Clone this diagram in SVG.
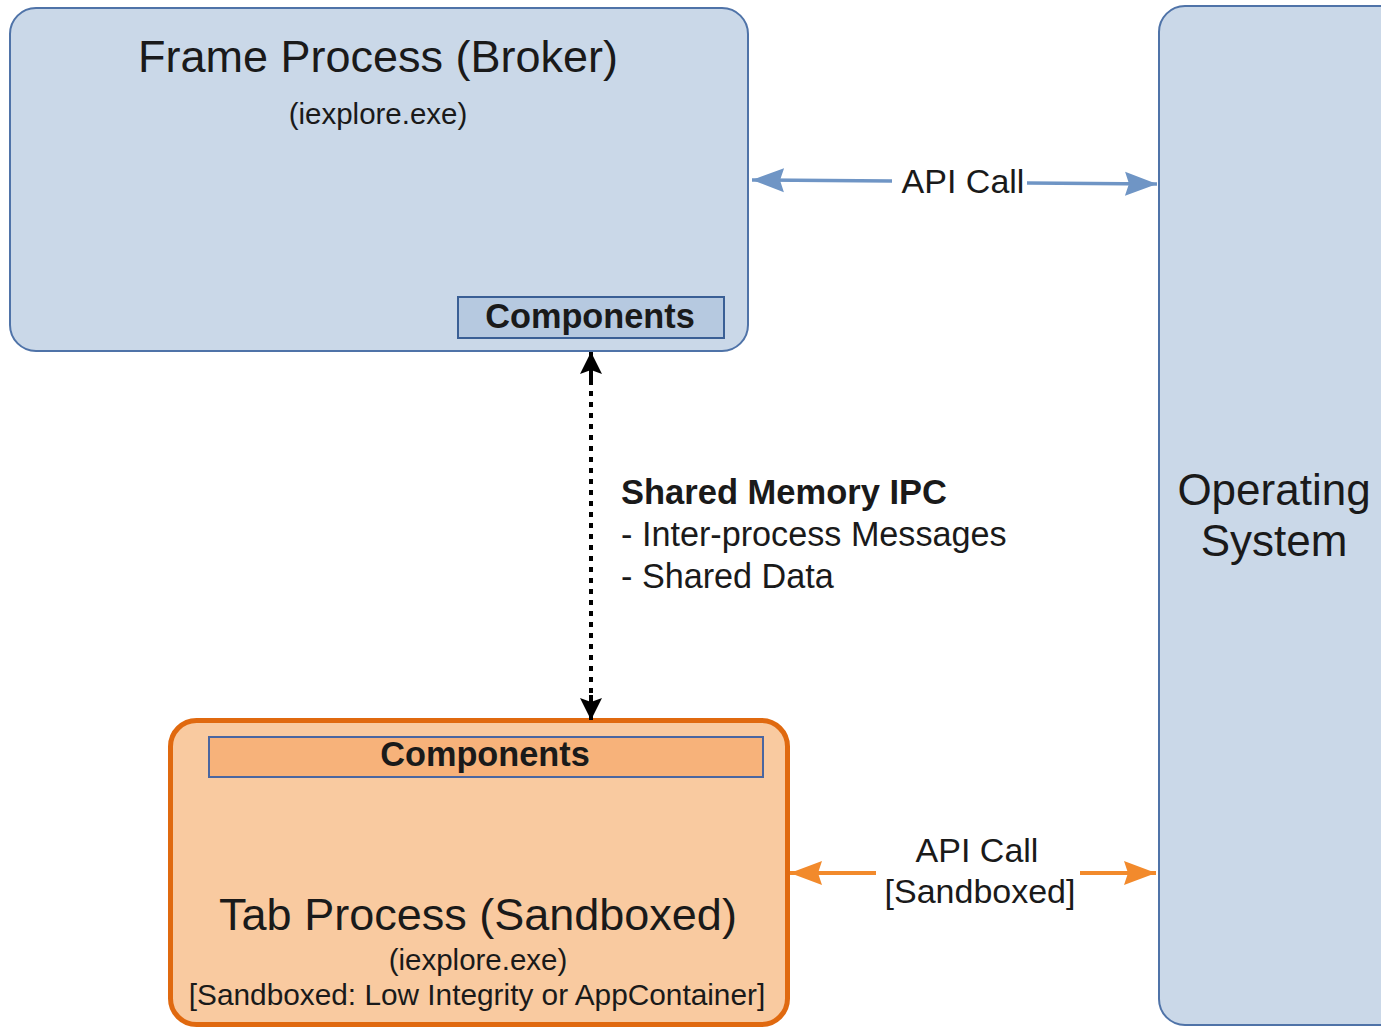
<svg xmlns="http://www.w3.org/2000/svg" width="1381" height="1027" viewBox="0 0 1381 1027">
<style>
.t{font-family:"Liberation Sans",Arial,sans-serif;fill:#1a1a1a}
.b{font-weight:bold}
.blue{fill:#cad8e8;stroke:#4f73a8;stroke-width:2}
.comp1{fill:#b6c9e0;stroke:#3a5f95;stroke-width:2}
.comp2{fill:#f7b27a;stroke:#4a66a0;stroke-width:2}
.ab{stroke:#6f95c5;stroke-width:3.5;fill:none}
.ao{stroke:#f28a2c;stroke-width:4;fill:none}
</style>
<defs>
<marker id="mb" markerUnits="userSpaceOnUse" markerWidth="34" markerHeight="28" refX="32" refY="14" orient="auto"><path d="M0,2 L32,14 L0,26 L4,14 Z" fill="#6f95c5"/></marker>
<marker id="mo" markerUnits="userSpaceOnUse" markerWidth="34" markerHeight="28" refX="32" refY="14" orient="auto"><path d="M0,2 L32,14 L0,26 L4,14 Z" fill="#f28a2c"/></marker>
<marker id="mk" markerUnits="userSpaceOnUse" markerWidth="24" markerHeight="24" refX="22" refY="12" orient="auto"><path d="M0,1 L22,12 L0,23 L4,12 Z" fill="#000"/></marker>
</defs>
<rect width="1381" height="1027" fill="#fff"/>
<g id="frame">
<rect class="blue" x="10" y="8" width="738" height="343" rx="26"/>
<text class="t" x="378" y="72" font-size="45" text-anchor="middle">Frame Process (Broker)</text>
<text class="t" x="378" y="124" font-size="29.5" text-anchor="middle">(iexplore.exe)</text>
<rect class="comp1" x="458" y="297" width="266" height="41"/>
<text class="t b" x="590" y="328" font-size="34.3" text-anchor="middle">Components</text>
</g>
<g id="os">
<rect class="blue" x="1159" y="6" width="260" height="1019" rx="26"/>
<text class="t" x="1274" y="505" font-size="44" text-anchor="middle">Operating</text>
<text class="t" x="1274" y="556" font-size="44" text-anchor="middle">System</text>
</g>
<g id="tab">
<rect x="170.5" y="720.5" width="617" height="304" rx="26" fill="#f9caa0" stroke="#e0690f" stroke-width="5"/>
<rect class="comp2" x="209" y="737" width="554" height="40"/>
<text class="t b" x="485" y="766" font-size="34.3" text-anchor="middle">Components</text>
<text class="t" x="478" y="930" font-size="45" text-anchor="middle">Tab Process (Sandboxed)</text>
<text class="t" x="478" y="970" font-size="29.5" text-anchor="middle">(iexplore.exe)</text>
<text class="t" x="477" y="1005" font-size="29.8" text-anchor="middle">[Sandboxed: Low Integrity or AppContainer]</text>
</g>
<g id="connectors">
<line class="ab" x1="892" y1="181" x2="752" y2="180" marker-end="url(#mb)"/>
<line class="ab" x1="1027" y1="183" x2="1157" y2="184" marker-end="url(#mb)"/>
<text class="t" x="963" y="193" font-size="34" text-anchor="middle">API Call</text>
<line class="ao" x1="876" y1="873" x2="790" y2="873" marker-end="url(#mo)"/>
<line class="ao" x1="1080" y1="873" x2="1156" y2="873" marker-end="url(#mo)"/>
<text class="t" x="977" y="862" font-size="34" text-anchor="middle">API Call</text>
<text class="t" x="980" y="903" font-size="34" text-anchor="middle">[Sandboxed]</text>
<line x1="591" y1="380" x2="591" y2="700" stroke="#000" stroke-width="4" stroke-dasharray="5 6"/>
<line x1="591" y1="380" x2="591" y2="352" stroke="#000" stroke-width="4" marker-end="url(#mk)"/>
<line x1="591" y1="695" x2="591" y2="720" stroke="#000" stroke-width="4" marker-end="url(#mk)"/>
<text class="t b" x="621" y="504" font-size="34.5">Shared Memory IPC</text>
<text class="t" x="621" y="546" font-size="34.2">- Inter-process Messages</text>
<text class="t" x="621" y="588" font-size="34.2">- Shared Data</text>
</g>
</svg>
